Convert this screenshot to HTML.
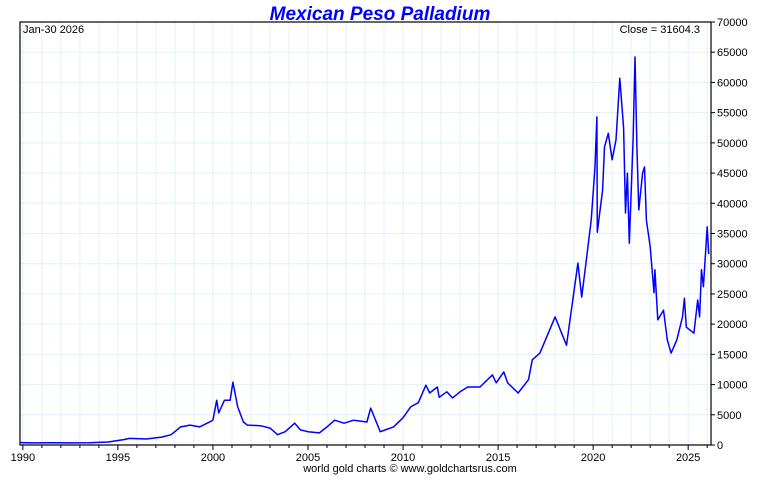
<!DOCTYPE html>
<html><head><meta charset="utf-8"><style>
body{margin:0;background:#fff;}
svg text{font-family:"Liberation Sans",Arial,sans-serif;}
</style></head><body>
<svg id="c" width="760" height="475" xmlns="http://www.w3.org/2000/svg">
<text x="380" y="20" text-anchor="middle" font-size="19" font-weight="bold" font-style="italic" fill="#0000ff">Mexican Peso Palladium</text>
<g id="grid"></g>
<g id="axes"></g>
<text x="23" y="33" font-size="11" fill="#000">Jan-30  2026</text>
<text x="700" y="33" font-size="11" fill="#000" text-anchor="end">Close = 31604.3</text>
<text x="410" y="472" font-size="11" fill="#000" text-anchor="middle">world gold charts © www.goldchartsrus.com</text>
</svg>
<script>
const years=[1989.85,1990.5,1991.5,1992.5,1993.5,1994.5,1995.3,1995.6,1996.5,1997.3,1997.8,1998.3,1998.8,1999.3,1999.7,2000.0,2000.2,2000.3,2000.6,2000.9,2001.05,2001.3,2001.6,2001.8,2002.5,2003.0,2003.4,2003.8,2004.3,2004.6,2005.0,2005.6,2006.0,2006.4,2006.9,2007.4,2008.1,2008.3,2008.7,2008.8,2009.5,2010.0,2010.4,2010.8,2011.2,2011.4,2011.8,2011.9,2012.3,2012.6,2013.0,2013.4,2014.05,2014.7,2014.9,2015.3,2015.5,2016.05,2016.6,2016.8,2017.2,2018.0,2018.6,2019.2,2019.4,2019.6,2019.9,2020.1,2020.2,2020.22,2020.5,2020.6,2020.8,2021.0,2021.2,2021.4,2021.6,2021.7,2021.8,2021.9,2022.1,2022.2,2022.3,2022.4,2022.6,2022.7,2022.8,2023.0,2023.2,2023.25,2023.4,2023.7,2023.9,2024.1,2024.4,2024.7,2024.8,2024.9,2025.3,2025.5,2025.6,2025.7,2025.8,2026.0,2026.08];
const values=[400,350,380,350,380,500,900,1100,1000,1300,1700,3000,3300,3000,3600,4100,7400,5300,7400,7400,10400,6300,3800,3300,3200,2800,1700,2200,3600,2500,2200,2000,3000,4100,3600,4100,3800,6100,3000,2200,3000,4500,6300,7000,9900,8600,9600,7900,8800,7800,8800,9600,9600,11600,10300,12100,10300,8600,10800,14100,15200,21200,16500,30100,24500,29500,37200,46000,54300,35200,42200,49300,51600,47200,50500,60700,52500,38400,45000,33400,50500,64200,49300,38900,45000,46000,37200,32800,25200,29000,20700,22300,17400,15200,17400,21200,24300,19500,18500,24000,21200,29000,26200,36100,31604];
const yTicks=[0,5000,10000,15000,20000,25000,30000,35000,40000,45000,50000,55000,60000,65000,70000];
const xLabels=[1990,1995,2000,2005,2010,2015,2020,2025];
const L=20,R=711,T=22,B=445,X0=1989.85,X1=2026.2;
const xs=y=>L+(y-X0)/(X1-X0)*(R-L);
const ys=v=>B-v/70000*(B-T);
const NS="http://www.w3.org/2000/svg";
const svg=document.getElementById('c'),grid=document.getElementById('grid'),axes=document.getElementById('axes');
function mk(tag,attrs,parent){const e=document.createElementNS(NS,tag);for(const k in attrs)e.setAttribute(k,attrs[k]);parent.appendChild(e);return e;}
for(let y=1990;y<=2026;y++){const x=xs(y);
const g=mk('line',{x1:x,x2:x,y1:T,y2:B,stroke:'#e3f0fa','stroke-width':1},grid);


const t=mk('line',{x1:x,x2:x,y1:B,y2:B+(y%5==0?5:3),stroke:'#000'},axes);

}
yTicks.forEach(v=>{const y=ys(v);
const g=mk('line',{x1:L,x2:R,y1:y,y2:y,stroke:'#e3f0fa'},grid);


const t=mk('line',{x1:R,x2:R+4,y1:y,y2:y,stroke:'#000'},axes);


const l=mk('text',{x:R+6,y:y+4,'font-size':11},axes);l.textContent=v;

});
xLabels.forEach(v=>{const l=mk('text',{x:xs(v),y:461,'font-size':11,'text-anchor':'middle'},axes);l.textContent=v;

});
const fr=mk('rect',{x:L,y:T,width:R-L,height:B-T,fill:'none',stroke:'#000','stroke-width':1.2},axes);


const p=mk('polyline',{points:years.map((y,i)=>xs(y).toFixed(1)+','+ys(values[i]).toFixed(1)).join(' '),fill:'none',stroke:'#0000ff','stroke-width':1.5,'stroke-linejoin':'round'},svg);


</script>
</body></html>
